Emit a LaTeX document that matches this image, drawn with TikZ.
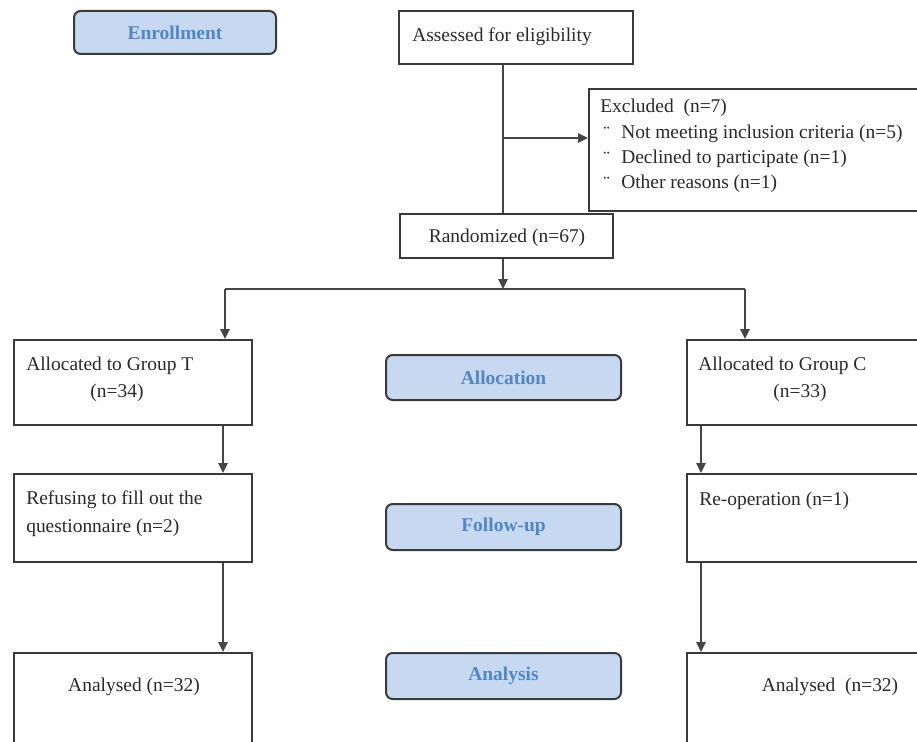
\documentclass[tikz,border=0pt]{standalone}
\usepackage{fontspec}
\setmainfont{Liberation Serif}
\usetikzlibrary{arrows.meta}
\definecolor{linec}{HTML}{3A3A3A}
\definecolor{arrc}{HTML}{454545}
\definecolor{phasefill}{HTML}{C6D9F0}
\definecolor{phasetext}{HTML}{5286C6}
\definecolor{txt}{HTML}{2A2A2A}
\begin{document}
\begin{tikzpicture}[x=0.75pt,y=-0.75pt,
  wbox/.style={draw=linec, line width=1.4pt, fill=white, inner sep=0pt, anchor=north west},
  phase/.style={draw=linec, line width=1.5pt, fill=phasefill, rounded corners=5pt, inner sep=0pt, anchor=north west},
  phasetxt/.style={text=phasetext, font=\fontsize{14.6}{17}\selectfont\bfseries, inner sep=0pt},
  lbl/.style={text=txt, font=\fontsize{14.6}{18}\selectfont, inner sep=0pt},
  arr/.style={draw=arrc, line width=1.4pt, -{Triangle[length=7.5pt,width=7pt]}},
  ln/.style={draw=arrc, line width=1.4pt}]
\clip (0,0) rectangle (917,742);
\useasboundingbox (0,0) rectangle (917,742);
\fill[white] (0,0) rectangle (917,742);

% coordinates for connector columns/rows
\coordinate (xM) at (503,0);
\coordinate (xL) at (225,0);
\coordinate (xR) at (745,0);
\coordinate (xL2) at (223,0);
\coordinate (xR2) at (701,0);
\coordinate (yEx) at (0,138);
\coordinate (ySp) at (0,289);

% phase boxes
\node[phase, minimum width=202*0.75pt, minimum height=43*0.75pt] (enroll) at (73,10) {};
\node[phasetxt] (enrollT) at (enroll.center) {Enrollment};
\node[phase, minimum width=235*0.75pt, minimum height=45*0.75pt] (alloc) at (385,354) {};
\node[phasetxt] (allocT) at (alloc.center) {Allocation};
\node[phase, minimum width=235*0.75pt, minimum height=46*0.75pt] (follow) at (385,503) {};
\node[phasetxt] (followT) at (follow.center) {Follow-up};
\node[phase, minimum width=235*0.75pt, minimum height=46*0.75pt] (analysis) at (385,652) {};
\node[phasetxt] (analysisT) at (analysis.center) {Analysis};

% boxes
\node[wbox, minimum width=234*0.75pt, minimum height=53*0.75pt] (assess) at (398,10) {};
\node[lbl] (assessT) at (502,37) {Assessed for eligibility};

\node[wbox, minimum width=340*0.75pt, minimum height=122*0.75pt] (excl) at (588,88) {};
\node[lbl, anchor=west] (exT) at (600,108) {Excluded\ \ (n=7)};
\node[lbl, anchor=west] (exB1) at (603,133) {¨};
\node[lbl, anchor=west] (ex1) at (621,134) {Not meeting inclusion criteria (n=5)};
\node[lbl, anchor=west] (exB2) at (603,158) {¨};
\node[lbl, anchor=west] (ex2) at (621,159) {Declined to participate (n=1)};
\node[lbl, anchor=west] (exB3) at (603,183) {¨};
\node[lbl, anchor=west] (ex3) at (621,184) {Other reasons (n=1)};

\node[wbox, minimum width=213*0.75pt, minimum height=44*0.75pt] (rand) at (399,213) {};
\node[lbl] (randT) at (507,238) {Randomized (n=67)};

\node[wbox, minimum width=238*0.75pt, minimum height=85*0.75pt] (grpT) at (13,339) {};
\node[lbl, anchor=west] (grpT1) at (26,366) {Allocated to Group T};
\node[lbl] (grpT2) at (117,393) {(n=34)};

\node[wbox, minimum width=240*0.75pt, minimum height=85*0.75pt] (grpC) at (686,339) {};
\node[lbl, anchor=west] (grpC1) at (698,366) {Allocated to Group C};
\node[lbl] (grpC2) at (800,393) {(n=33)};

\node[wbox, minimum width=238*0.75pt, minimum height=88*0.75pt] (refuse) at (13,473) {};
\node[lbl, anchor=west] (refuse1) at (26,500) {Refusing to fill out the};
\node[lbl, anchor=west] (refuse2) at (26,528) {questionnaire (n=2)};

\node[wbox, minimum width=240*0.75pt, minimum height=88*0.75pt] (reop) at (686,473) {};
\node[lbl, anchor=west] (reopT) at (699,501) {Re-operation (n=1)};

\node[wbox, minimum width=238*0.75pt, minimum height=100*0.75pt] (anaT) at (13,652) {};
\node[lbl] (anaTT) at (134,687) {Analysed (n=32)};

\node[wbox, minimum width=240*0.75pt, minimum height=100*0.75pt] (anaC) at (686,652) {};
\node[lbl] (anaCT) at (830,687) {Analysed\ \ (n=32)};

% connectors
\draw[ln] (assess.south -| xM) -- (rand.north -| xM);
\draw[arr] (xM |- yEx) -- (excl.west |- yEx);
\draw[arr] (rand.south -| xM) -- (xM |- ySp);
\draw[ln] (xL |- ySp) -- (xR |- ySp);
\draw[arr] (xL |- ySp) -- (grpT.north -| xL);
\draw[arr] (xR |- ySp) -- (grpC.north -| xR);
\draw[arr] (grpT.south -| xL2) -- (refuse.north -| xL2);
\draw[arr] (grpC.south -| xR2) -- (reop.north -| xR2);
\draw[arr] (refuse.south -| xL2) -- (anaT.north -| xL2);
\draw[arr] (reop.south -| xR2) -- (anaC.north -| xR2);
\end{tikzpicture}
\end{document}
